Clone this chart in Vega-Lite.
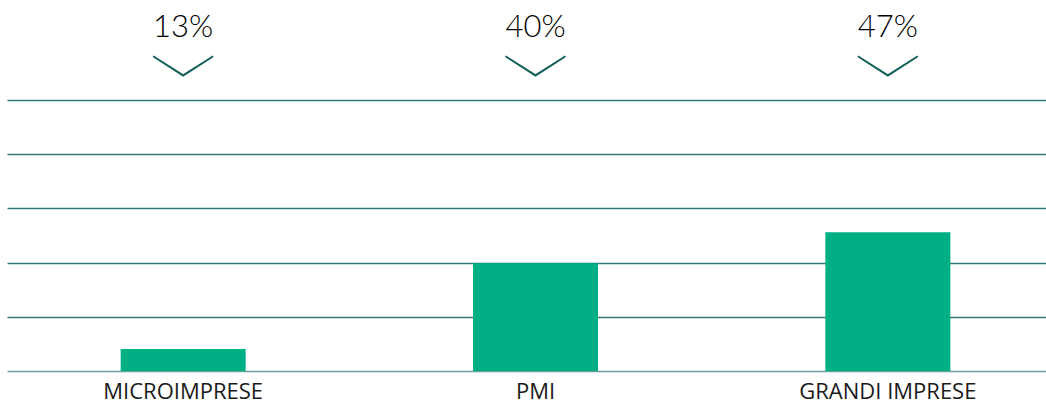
{
  "$schema": "https://vega.github.io/schema/vega-lite/v6.json",
  "autosize": "none",
  "width": 1036,
  "height": 371,
  "padding": {"left": 10, "top": 0, "right": 0, "bottom": 32},
  "background": "white",
  "config": {"view": {"stroke": null}},
  "data": {"values": [
    {"categoria": "MICROIMPRESE", "valore": 4.06, "quota": "13%"},
    {"categoria": "PMI", "valore": 19.9, "quota": "40%"},
    {"categoria": "GRANDI IMPRESE", "valore": 25.6, "quota": "47%"}
  ]},
  "encoding": {
    "x": {
      "field": "categoria", "type": "nominal", "sort": null,
      "scale": {"range": [-3, 1054], "paddingInner": 0, "paddingOuter": 0},
      "axis": {"title": null, "domain": false, "ticks": false, "labelAngle": 0, "labelPadding": 10,
        "labelFont": "Open Sans", "labelFontSize": 22, "labelColor": "#1a1a1a", "labelFontWeight": 400}
    }
  },
  "layer": [
    {
      "mark": {"type": "bar", "width": 125, "color": "#00af84"},
      "encoding": {
        "y": {"field": "valore", "type": "quantitative",
          "scale": {"domain": [0, 68.45], "nice": false, "zero": true},
          "axis": {"title": null, "labels": false, "ticks": false, "domain": false,
            "values": [0, 10, 20, 30, 40, 50], "grid": true, "gridWidth": 1.5,
            "gridColor": {"condition": {"test": "datum.value === 0", "value": "#6a9f9c"}, "value": "#2d7b76"}}}
      }
    },
    {
      "mark": {"type": "text", "font": "Lato", "fontSize": 31, "fontWeight": 300, "color": "#000000", "baseline": "middle"},
      "encoding": {
        "y": {"datum": 63.2, "type": "quantitative"},
        "text": {"field": "quota"}
      }
    },
    {
      "mark": {"type": "point", "shape": "M-1,-0.32L0,0.32L1,-0.32", "filled": false, "size": 3600, "stroke": "#155f5b", "strokeWidth": 2, "opacity": 1},
      "encoding": {
        "y": {"datum": 56.3, "type": "quantitative"}
      }
    }
  ]
}
